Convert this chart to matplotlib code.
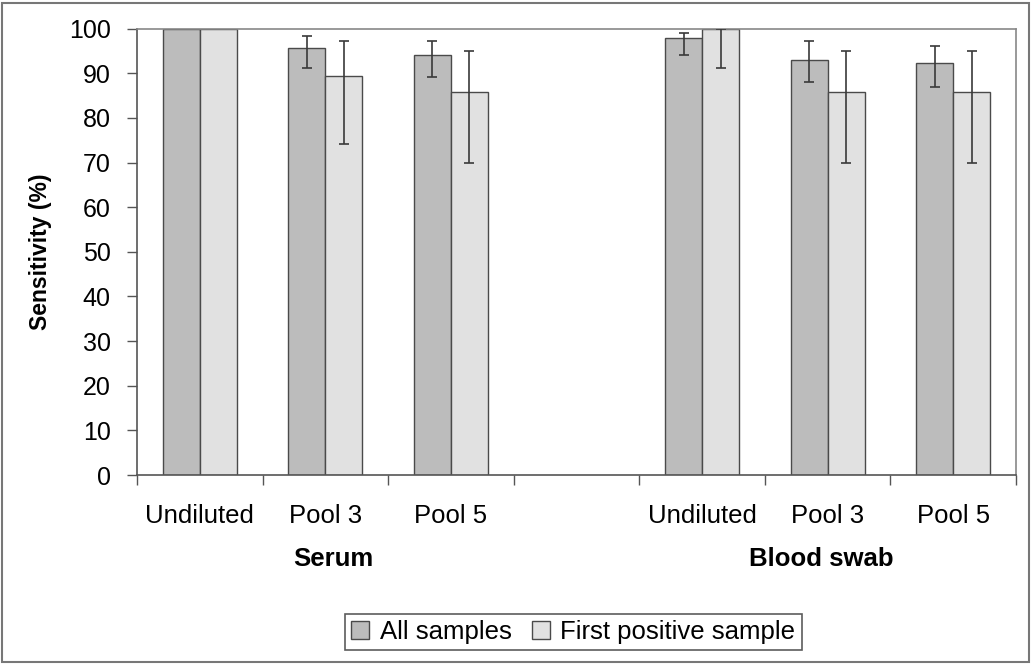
import matplotlib.pyplot as plt
import numpy as np
from matplotlib.patches import Rectangle

plt.rcParams["font.family"] = ["Liberation Sans", "DejaVu Sans"]

CATEGORIES = ["Undiluted", "Pool 3", "Pool 5", "", "Undiluted", "Pool 3", "Pool 5"]
GROUPS = ["Serum", "Blood swab"]
SERIES = ["All samples", "First positive sample"]

# nan marks the empty slot between the two groups
ALL_SAMPLES = [100, 95.7, 94.0, np.nan, 97.9, 93.0, 92.4]
ALL_ERR_LOW = [100, 91.1, 89.2, np.nan, 94.0, 88.0, 87.0]
ALL_ERR_HIGH = [100, 98.3, 97.2, np.nan, 99.1, 97.2, 96.0]

FIRST_POS = [100, 89.3, 85.7, np.nan, 100, 85.7, 85.7]
FIRST_ERR_LOW = [100, 74.2, 70.0, np.nan, 91.1, 70.0, 70.0]
FIRST_ERR_HIGH = [100, 97.2, 95.0, np.nan, 100, 95.0, 95.0]

COLORS = ["#bcbcbc", "#e1e1e1"]
EDGE = "#4a4a4a"
FS = 18.5


def main():
    fig = plt.figure(figsize=(10.35, 6.65), dpi=100)
    ax = fig.add_axes([0.1324, 0.2857, 0.8492, 0.6713])

    x = np.arange(len(CATEGORIES))
    width = 0.295

    series = [
        (ALL_SAMPLES, ALL_ERR_LOW, ALL_ERR_HIGH),
        (FIRST_POS, FIRST_ERR_LOW, FIRST_ERR_HIGH),
    ]
    for i, (vals, lo, hi) in enumerate(series):
        vals = np.array(vals, dtype=float)
        lo = np.array(lo, dtype=float)
        hi = np.array(hi, dtype=float)
        xpos = x + (i - 0.5) * width
        ax.bar(xpos, vals, width, color=COLORS[i], edgecolor=EDGE,
               linewidth=1.0, label=SERIES[i], zorder=2)
        has_err = (hi - lo) > 0
        ax.errorbar(xpos[has_err], vals[has_err],
                    yerr=[vals[has_err] - lo[has_err], hi[has_err] - vals[has_err]],
                    fmt="none", ecolor="#3a3a3a", elinewidth=1.2,
                    capsize=3.8, capthick=1.2, zorder=3)

    ax.set_xlim(-0.5, len(CATEGORIES) - 0.5)
    ax.set_ylim(0, 100)
    ax.set_yticks(np.arange(0, 101, 10))
    ax.tick_params(axis="y", labelsize=18, length=7, width=1, color="#555555", pad=12)

    ax.set_xticks(np.arange(-0.5, len(CATEGORIES), 1.0))
    ax.set_xticklabels([])
    ax.tick_params(axis="x", length=7, width=1, color="#555555")
    for xi, label in zip(x, CATEGORIES):
        ax.text(xi, -9.2, label, ha="center", va="center", fontsize=FS,
                clip_on=False)

    for center, label in zip([1.06, 4.95], GROUPS):
        ax.text(center, -18.9, label, ha="center", va="center", fontsize=FS,
                fontweight="bold", clip_on=False)

    ax.set_ylabel("Sensitivity (%)", fontsize=16.5, fontweight="bold", labelpad=12)

    for side in ["left", "bottom"]:
        ax.spines[side].set_color("#555555")
        ax.spines[side].set_linewidth(1.2)
    for side in ["top", "right"]:
        ax.spines[side].set_color("#888888")
        ax.spines[side].set_linewidth(1.2)

    leg = fig.legend(loc="center", bbox_to_anchor=(0.554, 0.0496), ncol=2,
                     fontsize=FS, frameon=True, fancybox=False,
                     edgecolor="#333333", handlelength=0.7, handleheight=0.7,
                     handletextpad=0.4, columnspacing=0.8, borderpad=0.25)
    leg.get_frame().set_linewidth(1.2)

    fig.patches.append(Rectangle((0.002, 0.004), 0.992, 0.992, transform=fig.transFigure,
                                 fill=False, edgecolor="#777777", linewidth=1.5))

    fig.savefig("out.png", dpi=100)
    plt.close(fig)


if __name__ == "__main__":
    main()
